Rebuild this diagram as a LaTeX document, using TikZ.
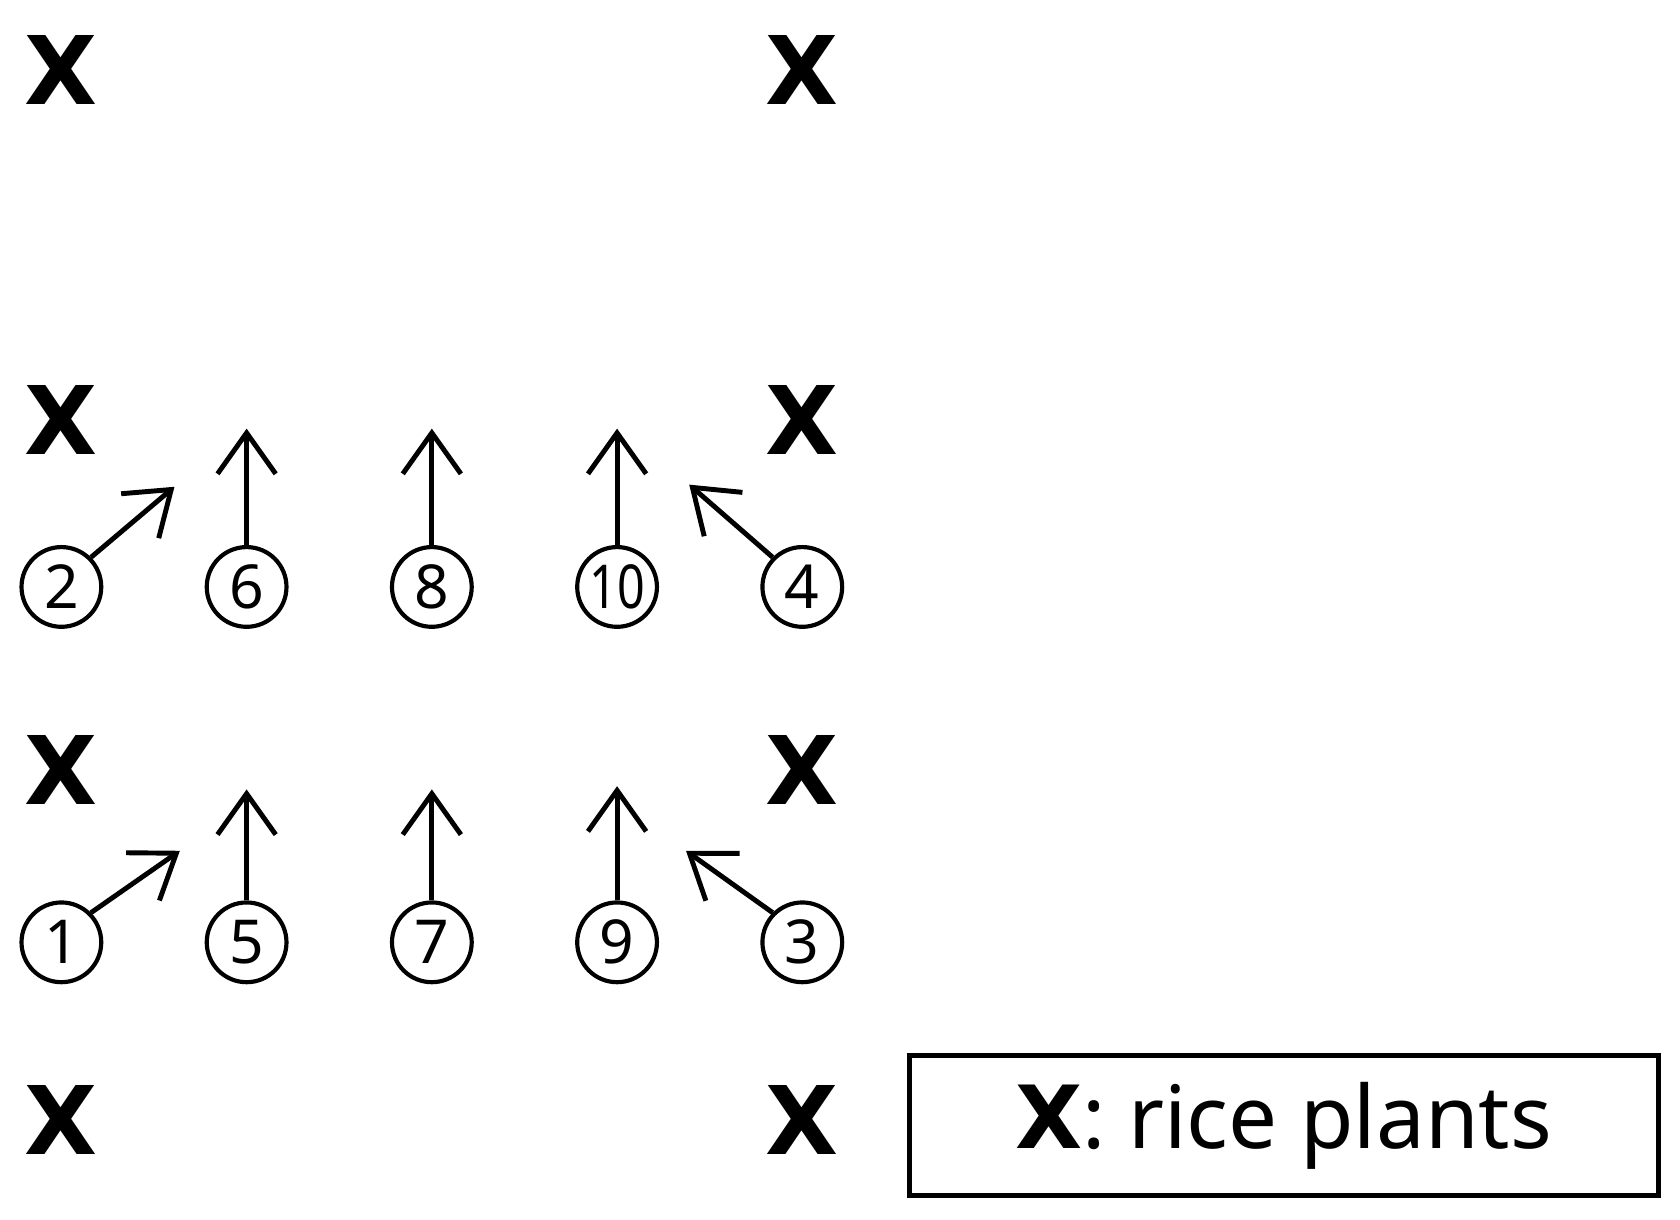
\documentclass[tikz,border=0pt]{standalone}
\usepackage{fontspec}
\setmainfont{Noto Sans}
\newfontfamily\xfont{DejaVu Sans}
\usetikzlibrary{arrows.meta}
\begin{document}
\begin{tikzpicture}[x=0.01cm,y=-0.01cm,
  plant/.style={font=\xfont\fontsize{25}{25}\selectfont\bfseries, inner sep=0pt},
  num/.style={circle, draw, line width=1.1pt, minimum size=0.74cm, inner sep=0pt, font=\fontsize{16}{16}\selectfont},
  arr/.style={line width=1.3pt, -{Straight Barb[length=3.8mm,width=5.4mm,line width=1.3pt]}}]
\useasboundingbox (0,0) rectangle (1560,1132);
\foreach \y [count=\i] in {65,390,715,1040}{
  \node[plant] (xl\i) at (57,\y) {X};
  \node[plant] (xr\i) at (745,\y) {X};
}
\node[num] (n2) at (57,545) {2};
\node[num] (n6) at (229,545) {6};
\node[num] (n8) at (401,545) {8};
\node[num] (n10) at (573,545) {\makebox[0pt]{\scalebox{0.8}[1]{10}}};
\node[num] (n4) at (745,545) {4};
\node[num] (n1) at (57,875) {1};
\node[num] (n5) at (229,875) {5};
\node[num] (n7) at (401,875) {7};
\node[num] (n9) at (573,875) {9};
\node[num] (n3) at (745,875) {3};
\coordinate (t6) at (229,398); \coordinate (t8) at (401,398); \coordinate (t10) at (573,398);
\coordinate (t2) at (162,452); \coordinate (t4) at (640,450);
\coordinate (t5) at (229,733); \coordinate (t7) at (401,733); \coordinate (t9) at (573,730);
\coordinate (t1) at (167,790); \coordinate (t3) at (637,790);
\foreach \n in {6,8,10,5,7,9}{ \draw[arr] (n\n.north) -- (t\n); }
\draw[arr] (n2.45) -- (t2);
\draw[arr] (n4.135) -- (t4);
\draw[arr] (n1.45) -- (t1);
\draw[arr] (n3.135) -- (t3);
\node[draw, line width=1.3pt, minimum width=6.95cm, minimum height=1.3cm, anchor=north west,
  font=\fontsize{23}{23}\selectfont] (legend) at (842,978) {{\xfont\bfseries X}: rice plants};
\end{tikzpicture}
\end{document}
